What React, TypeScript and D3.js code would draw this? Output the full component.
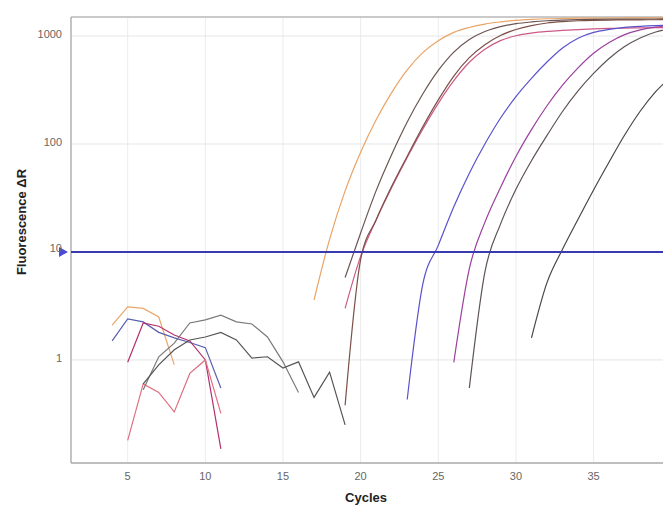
import * as d3 from "d3";
import { useEffect, useRef } from "react";

// axis ticks
const xTicks = [5, 10, 15, 20, 25, 30, 35];
const yTicks = [1, 10, 100, 1000];
const threshold = 10;

// amplification curves (first cycle, then one value per cycle)
const ampOrange = { start: 17, values: [3.6, 13.1, 36.8, 84, 168, 299, 485, 702, 904, 1080, 1200, 1290, 1350, 1395, 1425, 1445, 1455, 1462, 1466, 1468, 1470, 1471, 1472, 1473] };
const ampBrown1 = { start: 19, values: [5.8, 15, 37, 80, 160, 290, 480, 710, 930, 1100, 1220, 1300, 1350, 1385, 1405, 1418, 1426, 1431, 1434, 1436, 1438, 1440] };
const ampPink = { start: 19, values: [3.0, 9.1, 19.8, 39.5, 75, 137, 238, 386, 571, 753, 906, 1005, 1064, 1102, 1127, 1148, 1164, 1175, 1183, 1190, 1195, 1198] };
const ampBrown2 = { start: 19, values: [0.38, 8.5, 19.9, 40.6, 77, 144, 256, 426, 630, 830, 1010, 1150, 1250, 1320, 1360, 1385, 1398, 1405, 1410, 1413, 1415, 1416] };
const ampBlue = { start: 23, values: [0.43, 5.0, 11.5, 26.2, 53.6, 99.8, 173, 275, 406, 574, 774, 953, 1080, 1150, 1200, 1230, 1250, 1260] };
const ampPurple = { start: 26, values: [0.95, 7, 18.8, 39.4, 76.7, 136, 226, 351, 507, 692, 870, 1030, 1140, 1210, 1250] };
const ampGrey1 = { start: 27, values: [0.55, 6.5, 18, 38, 70, 120, 200, 310, 450, 620, 800, 960, 1090, 1180] };
const ampGrey2 = { start: 31, values: [1.6, 5.2, 10.6, 20.1, 37.5, 68, 121, 201, 305, 421] };

// baseline noise before amplification
const noiseOrange = { start: 4, values: [2.1, 3.1, 3.0, 2.5, 0.9] };
const noiseBlue = { start: 4, values: [1.5, 2.4, 2.25, 1.8, 1.6, 1.45, 1.3, 0.55] };
const noiseMagenta = { start: 5, values: [0.95, 2.2, 2.05, 1.7, 1.5, 1.0, 0.15] };
const noisePink = { start: 5, values: [0.18, 0.6, 0.5, 0.33, 0.75, 1.0, 0.32] };
const noiseGrey1 = { start: 6, values: [0.53, 1.07, 1.43, 2.2, 2.35, 2.6, 2.25, 2.15, 1.63, 0.96, 0.5] };
const noiseGrey2 = { start: 6, values: [0.6, 0.9, 1.24, 1.53, 1.63, 1.8, 1.53, 1.04, 1.07, 0.84, 0.96, 0.45, 0.77, 0.25] };

const ampSeries = [ampOrange, ampBrown1, ampPink, ampBrown2, ampBlue, ampPurple, ampGrey1, ampGrey2];
const ampColors = ["#e9a466", "#6a5552", "#cc5a86", "#7a5048", "#5a52cc", "#9b3f9e", "#5f5454", "#4a4646"];
const noiseSeries = [noiseOrange, noiseBlue, noiseMagenta, noisePink, noiseGrey1, noiseGrey2];
const noiseColors = ["#eaa56a", "#5a5fae", "#b3306f", "#e07080", "#7a7a7a", "#555555"];

const toPoints = (s) => s.values.map((v, i) => [s.start + i, v]);

export default function App() {
  const svgRef = useRef(null);
  const W = 663;
  const H = 510;
  const left = 71, right = 663, top = 17, bottom = 463;

  useEffect(() => {
    const svg = d3.select(svgRef.current);
    svg.selectAll("*").remove();

    const x = d3.scaleLinear().domain([1.35, 39.47]).range([left, right]);
    const y = d3.scaleLog().domain([0.111, 1500]).range([bottom, top]);

    svg.append("rect").attr("width", W).attr("height", H).attr("fill", "#fff");

    svg.append("clipPath").attr("id", "plot")
      .append("rect").attr("x", left).attr("y", top).attr("width", right - left).attr("height", bottom - top);

    // grid
    svg.selectAll(".vgrid").data(xTicks).enter().append("line")
      .attr("x1", d => x(d)).attr("x2", d => x(d))
      .attr("y1", top).attr("y2", bottom)
      .attr("stroke", "#ececec");
    svg.selectAll(".hgrid").data(yTicks).enter().append("line")
      .attr("x1", left).attr("x2", right)
      .attr("y1", d => y(d)).attr("y2", d => y(d))
      .attr("stroke", "#e6e6e6");

    // frame
    svg.append("line").attr("x1", left).attr("x2", right).attr("y1", top).attr("y2", top).attr("stroke", "#b8b8b8").attr("stroke-width", 1.5);
    svg.append("line").attr("x1", left).attr("x2", left).attr("y1", top).attr("y2", bottom).attr("stroke", "#b0b0b0").attr("stroke-width", 1.5);
    svg.append("line").attr("x1", left).attr("x2", right).attr("y1", bottom).attr("y2", bottom).attr("stroke", "#a8a8a8").attr("stroke-width", 1.5);

    const g = svg.append("g").attr("clip-path", "url(#plot)");

    const straight = d3.line().x(d => x(d[0])).y(d => y(d[1]));
    const smooth = d3.line().x(d => x(d[0])).y(d => y(d[1])).curve(d3.curveMonotoneX);

    noiseSeries.forEach((s, i) => {
      g.append("path").attr("d", straight(toPoints(s)))
        .attr("fill", "none").attr("stroke", noiseColors[i]).attr("stroke-width", 1.2);
    });
    ampSeries.forEach((s, i) => {
      g.append("path").attr("d", smooth(toPoints(s)))
        .attr("fill", "none").attr("stroke", ampColors[i]).attr("stroke-width", 1.2);
    });

    // threshold
    g.append("line").attr("x1", left).attr("x2", right)
      .attr("y1", y(threshold)).attr("y2", y(threshold))
      .attr("stroke", "#3a3ab0").attr("stroke-width", 2);
    const ty = y(threshold);
    svg.append("path")
      .attr("d", `M${left - 12},${ty - 5}L${left - 3},${ty}L${left - 12},${ty + 5}Z`)
      .attr("fill", "#4a4ad6");

    // tick labels
    svg.selectAll(".xl").data(xTicks).enter().append("text")
      .attr("x", d => x(d)).attr("y", bottom + 17)
      .attr("text-anchor", "middle")
      .attr("font-family", "Liberation Sans, Arial, sans-serif")
      .attr("font-size", 11).attr("fill", "#666")
      .text(d => d);
    svg.selectAll(".yl").data(yTicks).enter().append("text")
      .attr("x", left - 9).attr("y", d => y(d) + (d === threshold ? 0 : 2))
      .attr("text-anchor", "end")
      .attr("font-family", "Liberation Sans, Arial, sans-serif")
      .attr("font-size", 11).attr("fill", "#666")
      .text(d => d);

    svg.append("text")
      .attr("x", 366).attr("y", 502)
      .attr("text-anchor", "middle")
      .attr("font-family", "Liberation Sans, Arial, sans-serif")
      .attr("font-size", 13).attr("font-weight", "bold").attr("fill", "#222")
      .text("Cycles");
    svg.append("text")
      .attr("transform", "translate(26,222) rotate(-90)")
      .attr("text-anchor", "middle")
      .attr("font-family", "Liberation Sans, Arial, sans-serif")
      .attr("font-size", 13).attr("font-weight", "bold").attr("fill", "#222")
      .text("Fluorescence ΔR");
  }, []);

  return (
    <svg ref={svgRef} width={W} height={H} style={{ position: "absolute", left: 0, top: 0 }}></svg>
  );
}
